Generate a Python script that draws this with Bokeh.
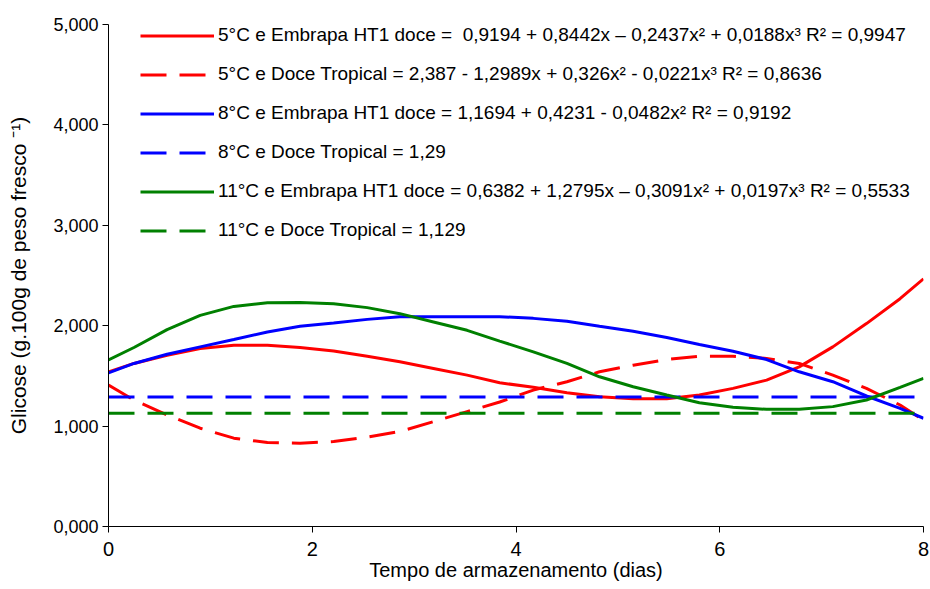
from bokeh.plotting import figure
from bokeh.models import Legend, LegendItem, FixedTicker, Range1d
from bokeh.embed import file_html
from bokeh.resources import INLINE

# ---- data ----
days = [0.0, 0.25, 0.575, 0.9, 1.23, 1.56, 1.88, 2.21, 2.54, 2.86, 3.19, 3.52,
        3.84, 4.17, 4.5, 4.82, 5.15, 5.48, 5.8, 6.13, 6.46, 6.78, 7.11, 7.44,
        7.77, 8.0]

t5_embrapa = [1.54, 1.624, 1.706, 1.773, 1.806, 1.806, 1.783, 1.749, 1.696, 1.64,
              1.574, 1.508, 1.432, 1.386, 1.333, 1.293, 1.273, 1.273, 1.31, 1.376,
              1.458, 1.59, 1.789, 2.021, 2.269, 2.467]
t5_tropical = [1.41, 1.26, 1.111, 0.979, 0.88, 0.836, 0.83, 0.846, 0.89, 0.946,
               1.045, 1.144, 1.24, 1.359, 1.442, 1.541, 1.607, 1.663, 1.696, 1.696,
               1.674, 1.624, 1.508, 1.376, 1.21, 1.06]
t8_embrapa = [1.53, 1.624, 1.716, 1.789, 1.862, 1.938, 1.994, 2.027, 2.063, 2.09,
              2.09, 2.09, 2.09, 2.073, 2.044, 1.994, 1.944, 1.882, 1.812, 1.746,
              1.663, 1.541, 1.442, 1.30, 1.177, 1.078]
t8_tropical = [1.29, 1.29]
t11_embrapa = [1.66, 1.783, 1.961, 2.103, 2.192, 2.229, 2.232, 2.219, 2.18, 2.12,
               2.037, 1.954, 1.847, 1.739, 1.624, 1.491, 1.392, 1.31, 1.233, 1.187,
               1.167, 1.167, 1.194, 1.26, 1.386, 1.475]
t11_tropical = [1.129, 1.129]
flat_days = [0.0, 8.0]

x_ticks = [0, 2, 4, 6, 8]
y_ticks = [0, 1, 2, 3, 4, 5]
y_tick_labels = ["0,000", "1,000", "2,000", "3,000", "4,000", "5,000"]

labels = [
    "5°C e Embrapa HT1 doce =  0,9194 + 0,8442x – 0,2437x² + 0,0188x³ R² = 0,9947",
    "5°C e Doce Tropical = 2,387 - 1,2989x + 0,326x² - 0,0221x³ R² = 0,8636",
    "8°C e Embrapa HT1 doce = 1,1694 + 0,4231 - 0,0482x² R² = 0,9192",
    "8°C e Doce Tropical = 1,29",
    "11°C e Embrapa HT1 doce = 0,6382 + 1,2795x – 0,3091x² + 0,0197x³ R² = 0,5533",
    "11°C e Doce Tropical = 1,129",
]

FONT = "Liberation Sans"
RED, BLUE, GREEN = "#FF0000", "#0000FF", "#008000"
DASH = "26 13"
LW = 3

p = figure(width=930, height=589, output_backend="svg", toolbar_location=None,
           x_range=Range1d(0, 8), y_range=Range1d(0, 5),
           min_border_left=108, min_border_right=7, min_border_top=24,
           min_border_bottom=63)
p.outline_line_color = None
p.xgrid.visible = False
p.ygrid.visible = False
p.background_fill_color = "white"
p.border_fill_color = "white"

r1 = p.line(days, t5_embrapa, line_color=RED, line_width=LW)
r2 = p.line(days, t5_tropical, line_color=RED, line_width=LW, line_dash=DASH)
r3 = p.line(days, t8_embrapa, line_color=BLUE, line_width=LW)
r4 = p.line(flat_days, t8_tropical, line_color=BLUE, line_width=LW, line_dash=DASH)
r5 = p.line(days, t11_embrapa, line_color=GREEN, line_width=LW)
r6 = p.line(flat_days, t11_tropical, line_color=GREEN, line_width=LW, line_dash=DASH)

items = [LegendItem(label=l, renderers=[r]) for l, r in zip(labels, [r1, r2, r3, r4, r5, r6])]
legend = Legend(items=items, location=(32, 285), orientation="vertical",
                background_fill_alpha=0, border_line_color=None,
                label_text_font=FONT, label_text_font_size="19px",
                label_text_color="black", glyph_width=74, glyph_height=21,
                label_height=21, spacing=17, padding=0, margin=0,
                label_standoff=4)
p.add_layout(legend, "center")

# axes
for ax in (p.xaxis[0], p.yaxis[0]):
    ax.axis_line_color = "black"
    ax.axis_line_width = 1
    ax.major_tick_line_color = "black"
    ax.major_tick_out = 6
    ax.major_tick_in = 0
    ax.minor_tick_line_color = None
    ax.major_label_text_font = FONT
    ax.major_label_text_color = "black"
    ax.axis_label_text_font = FONT
    ax.axis_label_text_font_style = "normal"
    ax.axis_label_text_color = "black"

p.xaxis.major_label_text_font_size = "20px"
p.yaxis.major_label_text_font_size = "18px"
p.xaxis.axis_label_text_font_size = "20px"
p.yaxis.axis_label_text_font_size = "21px"
p.xaxis.ticker = FixedTicker(ticks=x_ticks)
p.yaxis.ticker = FixedTicker(ticks=y_ticks)
p.yaxis.major_label_overrides = {t: s for t, s in zip(y_ticks, y_tick_labels)}
p.xaxis.axis_label = "Tempo de armazenamento (dias)"
p.yaxis.axis_label = "Glicose (g.100g de peso fresco ⁻¹)"
p.xaxis.major_label_standoff = 9
p.xaxis.axis_label_standoff = 0
p.yaxis.major_label_standoff = 4
p.yaxis.axis_label_standoff = 20

open("out.html", "w").write(file_html(p, INLINE))
